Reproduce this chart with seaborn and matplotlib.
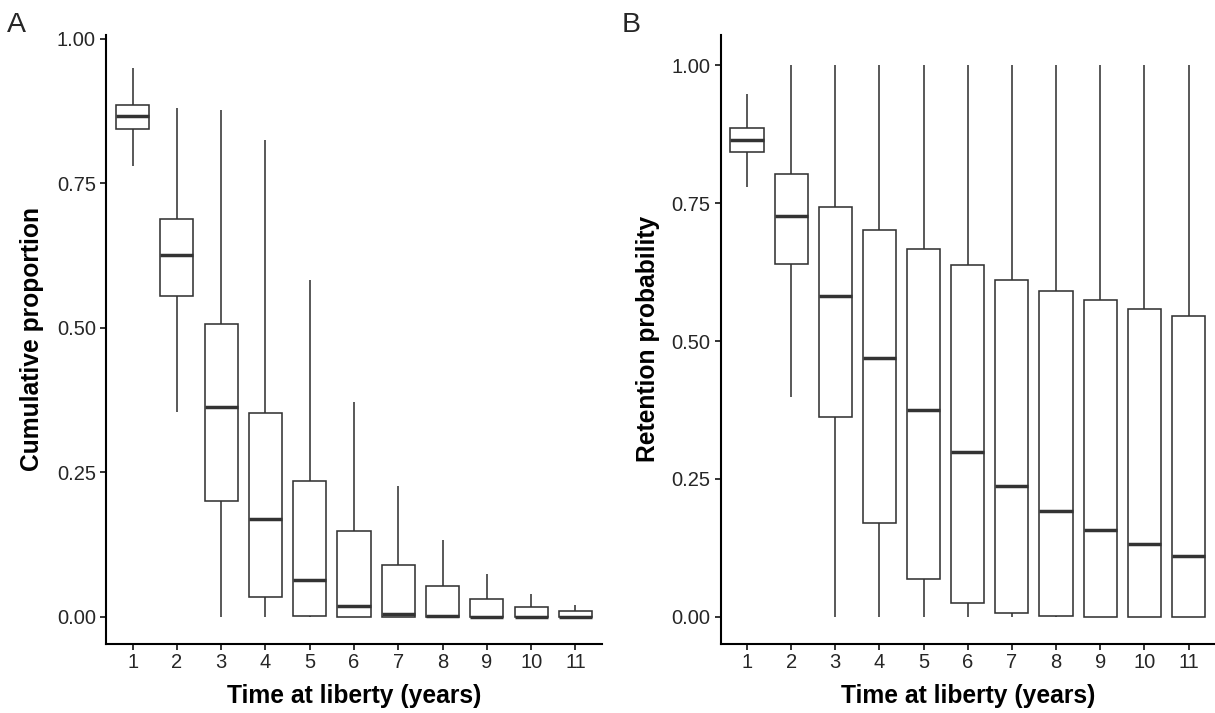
import numpy as np
import pandas as pd
import matplotlib
matplotlib.use("Agg")
import matplotlib.pyplot as plt
import seaborn as sns

# Five-number summaries per year at liberty: lower whisker, Q1, median, Q3, upper whisker
years = [1, 2, 3, 4, 5, 6, 7, 8, 9, 10, 11]

# Panel A: cumulative proportion
a_lo = [0.781, 0.354, 0.0, 0.0, 0.0, 0.0, 0.0, 0.0, 0.0, 0.0, 0.0]
a_q1 = [0.844, 0.555, 0.200, 0.034, 0.002, 0.0, 0.0, 0.0, 0.0, 0.0, 0.0]
a_med = [0.866, 0.626, 0.363, 0.169, 0.063, 0.019, 0.004, 0.002, 0.0, 0.0, 0.0]
a_q3 = [0.886, 0.689, 0.507, 0.353, 0.235, 0.149, 0.090, 0.053, 0.030, 0.016, 0.009]
a_hi = [0.949, 0.881, 0.877, 0.825, 0.583, 0.372, 0.226, 0.132, 0.074, 0.040, 0.021]

# Panel B: retention probability
b_lo = [0.779, 0.398, 0.0, 0.0, 0.0, 0.0, 0.0, 0.0, 0.0, 0.0, 0.0]
b_q1 = [0.843, 0.640, 0.362, 0.170, 0.068, 0.025, 0.007, 0.002, 0.0, 0.0, 0.0]
b_med = [0.865, 0.727, 0.582, 0.469, 0.374, 0.298, 0.237, 0.192, 0.157, 0.131, 0.110]
b_q3 = [0.886, 0.802, 0.743, 0.701, 0.666, 0.637, 0.611, 0.590, 0.574, 0.558, 0.545]
b_hi = [0.948, 1.0, 1.0, 1.0, 1.0, 1.0, 1.0, 1.0, 1.0, 1.0, 1.0]

y_ticks = [0.0, 0.25, 0.50, 0.75, 1.00]
y_tick_labels = ["0.00", "0.25", "0.50", "0.75", "1.00"]


def long_form(lo, q1, med, q3, hi):
    rows = []
    for yr, vals in zip(years, zip(lo, q1, med, q3, hi)):
        for v in vals:
            rows.append({"year": yr, "value": v})
    return pd.DataFrame(rows)


sns.set_theme(style="ticks")
plt.rcParams["font.family"] = ["Liberation Sans", "DejaVu Sans"]

fig = plt.figure(figsize=(12.15, 7.13), dpi=100)
W, H = 1215.0, 713.0
bottom = (H - 643.5) / H
top = (H - 35.0) / H
axA = fig.add_axes([106.0 / W, bottom, (602.0 - 106.0) / W, top - bottom])
axB = fig.add_axes([720.5 / W, bottom, (1215.0 - 720.5) / W, top - bottom])

line_col = "#333333"
tick_col = "#262626"

panels = [
    (axA, long_form(a_lo, a_q1, a_med, a_q3, a_hi), "Cumulative proportion", (-0.0464, 1.0069)),
    (axB, long_form(b_lo, b_q1, b_med, b_q3, b_hi), "Retention probability", (-0.0486, 1.055)),
]

for ax, df, ylab, ylim in panels:
    sns.boxplot(
        data=df, x="year", y="value", order=years, ax=ax,
        whis=(0, 100), width=0.75, color="white", linecolor=line_col,
        linewidth=1.15, showcaps=False, showfliers=False,
        medianprops={"linewidth": 2.5, "color": line_col},
    )
    ax.set_xlim(-0.6, 10.6)
    ax.set_ylim(*ylim)
    ax.set_yticks(y_ticks)
    ax.set_yticklabels(y_tick_labels)
    ax.set_xticks(range(len(years)))
    ax.set_xticklabels([str(y) for y in years])
    for side in ("top", "right"):
        ax.spines[side].set_visible(False)
    for side in ("left", "bottom"):
        ax.spines[side].set_color("black")
        ax.spines[side].set_linewidth(1.5)
    ax.tick_params(axis="both", length=4.2, width=1.4, color=line_col,
                   labelsize=14.5, labelcolor=tick_col, pad=3)
    ax.set_xlabel("Time at liberty (years)", fontsize=17.7, fontweight="bold", color="black")
    ax.set_ylabel(ylab, fontsize=17.7, fontweight="bold", color="black")
    ax.xaxis.label.set_va("center")
    ax.yaxis.label.set_va("center")

axA.xaxis.set_label_coords(0.5, (643.5 - 696.0) / 608.5)
axB.xaxis.set_label_coords(0.5, (643.5 - 696.0) / 608.5)
axA.yaxis.set_label_coords((32.5 - 106.0) / 496.0, 0.5)
axB.yaxis.set_label_coords((647.5 - 720.5) / 494.5, 0.5)

fig.text(7.0 / W, (H - 32.0) / H, "A", fontsize=20.5, ha="left", va="baseline")
fig.text(622.0 / W, (H - 32.0) / H, "B", fontsize=20.5, ha="left", va="baseline")

fig.savefig("out.png", dpi=100, facecolor="white")
